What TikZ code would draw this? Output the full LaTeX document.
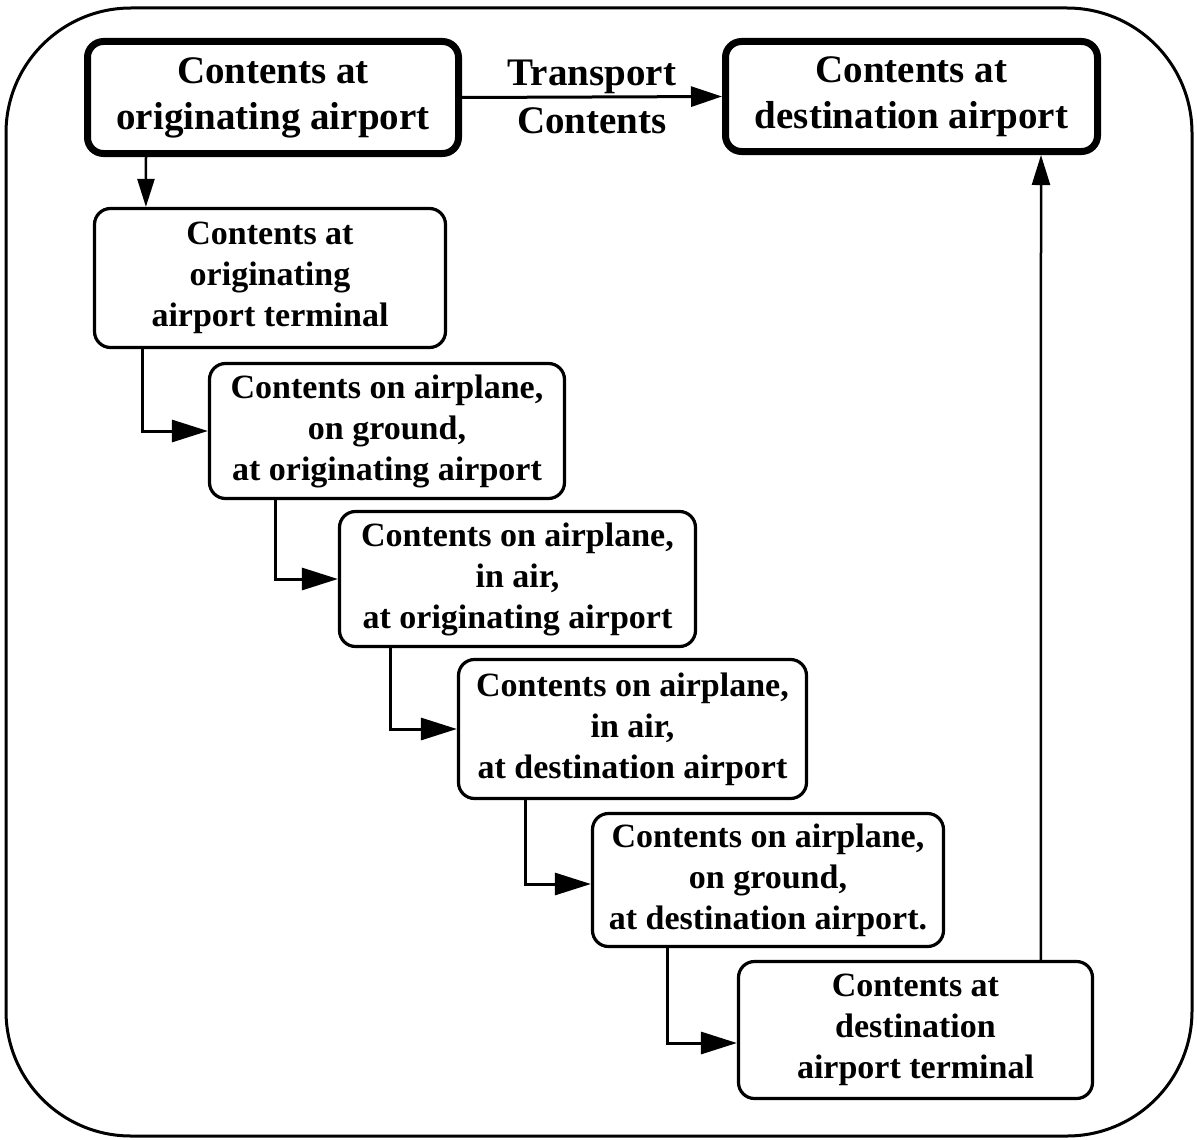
\documentclass[tikz,border=0pt]{standalone}
\usepackage{fontspec}
\setmainfont{Liberation Serif}
\usetikzlibrary{arrows.meta}
\begin{document}
\begin{tikzpicture}[x=1pt,y=-1pt,
  frame/.style={line width=3pt, rounded corners=125pt},
  bigbox/.style={draw, line width=7pt, rounded corners=16pt, align=center,
    inner sep=0pt, font=\bfseries\fontsize{39}{46}\selectfont},
  stagebox/.style={draw, line width=3.2pt, rounded corners=16pt, align=center,
    inner sep=0pt, font=\bfseries\fontsize{34}{41}\selectfont},
  link/.style={line width=3pt, -{Triangle[length=31pt,width=20pt]}},
  droplink/.style={line width=2.5pt, -{Triangle[length=28pt,width=17pt]}},
  steplink/.style={line width=3pt, -{Triangle[length=36pt,width=22pt]}},
  riselink/.style={line width=2.5pt, -{Triangle[length=30pt,width=18pt]}},
  tag/.style={align=center, inner sep=0pt, font=\bfseries\fontsize{39}{46}\selectfont}
]
\useasboundingbox (0,0) rectangle (1197,1140);
\draw[frame] (6,8) rectangle (1192,1136);

% overall move between airports
\node[bigbox, minimum width=371pt, minimum height=112pt] (A) at (273,97.5)
  {Contents at\\originating airport};
\node[bigbox, minimum width=372pt, minimum height=110pt] (B) at (911.5,96.5)
  {Contents at\\destination airport};

% intermediate stages
\node[stagebox, minimum width=351pt, minimum height=139pt] (C) at (270,278)
  {Contents at\\originating\\airport terminal};
\node[stagebox, minimum width=355pt, minimum height=135pt] (D) at (387,431)
  {Contents on airplane,\\on ground,\\at originating airport};
\node[stagebox, minimum width=356pt, minimum height=135pt] (E) at (517.5,579)
  {Contents on airplane,\\in air,\\at originating airport};
\node[stagebox, minimum width=348pt, minimum height=139pt] (F) at (632.5,729)
  {Contents on airplane,\\in air,\\at destination airport};
\node[stagebox, minimum width=351pt, minimum height=133pt] (G) at (768,880)
  {Contents on airplane,\\on ground,\\at destination airport.};
\node[stagebox, minimum width=354pt, minimum height=137pt] (H) at (915.5,1030)
  {Contents at\\destination\\airport terminal};

% connectors
\draw[link] (A.east) -- node[tag] {Transport\\[2pt]Contents} (B.west);
\draw[droplink] ([xshift=62pt]A.south west) -- ([xshift=53pt]C.north west);
\draw[steplink] ([xshift=50pt]C.south west) |- (D.west);
\draw[steplink] ([xshift=68pt]D.south west) |- (E.west);
\draw[steplink] ([xshift=53pt]E.south west) |- (F.west);
\draw[steplink] ([xshift=69pt]F.south west) |- ([yshift=-4pt]G.west);
\draw[steplink] ([xshift=77pt]G.south west) |- ([yshift=-13pt]H.west);
\draw[riselink] ([xshift=304pt]H.north west) -- ([xshift=319pt]B.south west);
\end{tikzpicture}
\end{document}
